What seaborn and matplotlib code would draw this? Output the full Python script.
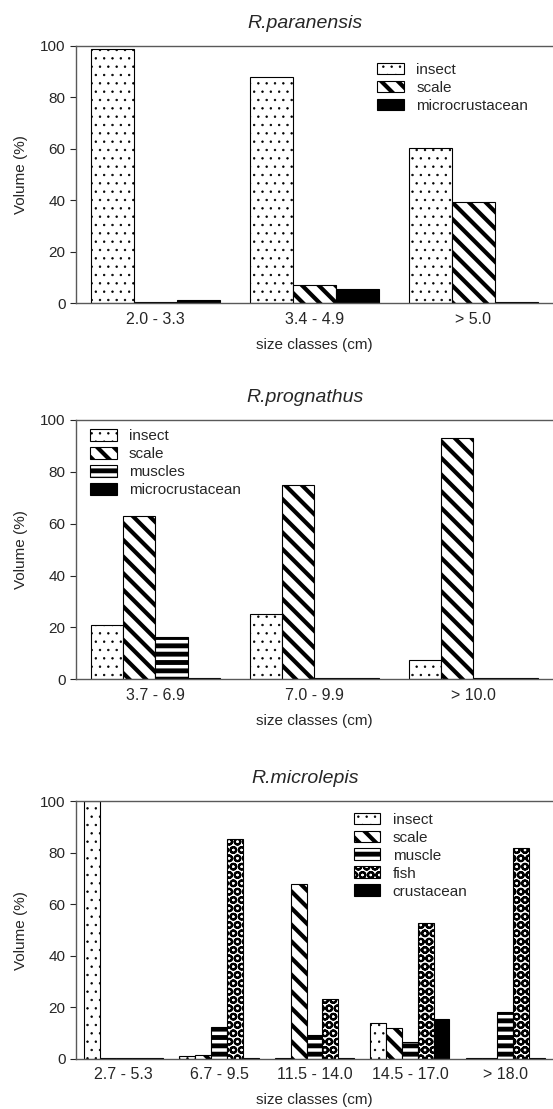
import matplotlib
matplotlib.use("Agg")
import matplotlib.pyplot as plt
import seaborn as sns
import pandas as pd
import numpy as np

# panel 1: R.paranensis
sizes_1 = ["2.0 - 3.3", "3.4 - 4.9", "> 5.0"]
items_1 = ["insect", "scale", "microcrustacean"]
insect_1 = [98.7, 87.7, 60.3]
scale_1 = [0.5, 7.1, 39.3]
microcrust_1 = [1.4, 5.5, 0.5]

# panel 2: R.prognathus
sizes_2 = ["3.7 - 6.9", "7.0 - 9.9", "> 10.0"]
items_2 = ["insect", "scale", "muscles", "microcrustacean"]
insect_2 = [21.0, 25.2, 7.4]
scale_2 = [63.0, 75.0, 92.9]
muscles_2 = [16.2, 0.5, 0.5]
microcrust_2 = [0.5, 0.5, 0.5]

# panel 3: R.microlepis
sizes_3 = ["2.7 - 5.3", "6.7 - 9.5", "11.5 - 14.0", "14.5 - 17.0", "> 18.0"]
items_3 = ["insect", "scale", "muscle", "fish", "crustacean"]
insect_3 = [100.0, 1.0, 0.5, 13.9, 0.5]
scale_3 = [0.5, 1.4, 67.8, 12.1, 0.5]
muscle_3 = [0.5, 12.6, 9.3, 6.5, 18.2]
fish_3 = [0.5, 85.4, 23.1, 53.0, 81.8]
crust_3 = [0.5, 0.5, 0.5, 15.6, 0.5]

# hatch style per food item: (facecolor, hatch, hatch linewidth)
styles = {
    "insect": ("white", "..", 0.5),
    "scale": ("white", "\\\\", 3.0),
    "muscles": ("white", "--", 3.5),
    "muscle": ("white", "--", 3.5),
    "fish": ("white", "OO", 1.5),
    "microcrustacean": ("black", "", 1.0),
    "crustacean": ("black", "", 1.0),
}

sns.set_style("white")
plt.rcParams["font.family"] = ["Liberation Sans", "DejaVu Sans"]
plt.rcParams["hatch.color"] = "black"


def long_df(sizes, items, series):
    rows = []
    for item, vals in zip(items, series):
        for s, v in zip(sizes, vals):
            rows.append({"size": s, "item": item, "vol": v})
    return pd.DataFrame(rows)


def set_hatch(p, hatch, hlw):
    p.set_hatch(hatch)
    if hasattr(p, "set_hatch_linewidth"):
        p.set_hatch_linewidth(hlw)


def draw(ax, sizes, items, series, title, width, xmax, leg_xy):
    df = long_df(sizes, items, series)
    pal = {it: styles[it][0] for it in items}
    sns.barplot(data=df, x="size", y="vol", hue="item", order=sizes,
                hue_order=items, palette=pal, saturation=1, width=width,
                edgecolor="black", linewidth=0.8, legend=False, ax=ax)
    for cont, item in zip(ax.containers, items):
        for p in cont.patches:
            set_hatch(p, styles[item][1], styles[item][2])
    leg = ax.legend(ax.containers, items, loc="upper left", bbox_to_anchor=leg_xy,
                    frameon=False, fontsize=11, handlelength=1.75, handleheight=0.8,
                    handletextpad=0.8, labelspacing=0.25, borderpad=0, borderaxespad=0)
    for h, item in zip(leg.legend_handles, items):
        set_hatch(h, styles[item][1], styles[item][2])
    ax.set_ylim(0, 100)
    ax.set_xlim(-0.5, xmax)
    ax.set_yticks([0, 20, 40, 60, 80, 100])
    ax.set_xticks(np.arange(len(sizes)) + 0.5, minor=True)
    ax.tick_params(axis="x", which="major", length=0, labelsize=11.5, pad=6)
    ax.tick_params(axis="x", which="minor", length=3, color="0.4", direction="out")
    ax.tick_params(axis="y", length=4, labelsize=11, left=True, direction="out")
    ax.set_ylabel("Volume (%)", fontsize=11, labelpad=9)
    ax.set_xlabel("size classes (cm)", fontsize=11, labelpad=8)
    ax.set_title(title, fontsize=14, style="italic", x=0.48, pad=13)
    for side in ["left", "bottom", "top"]:
        ax.spines[side].set_color("0.35")
        ax.spines[side].set_linewidth(1.0)
    ax.spines["right"].set_visible(False)


fig = plt.figure(figsize=(5.53, 11.09), dpi=100)
ax1 = fig.add_axes([0.1374, 0.7265, 0.8626, 0.2323])
ax2 = fig.add_axes([0.1374, 0.3875, 0.8626, 0.2338])
ax3 = fig.add_axes([0.1374, 0.0451, 0.8626, 0.2322])

draw(ax1, sizes_1, items_1, [insect_1, scale_1, microcrust_1],
     "R.paranensis", 0.81, 2.49, (0.632, 0.934))
draw(ax2, sizes_2, items_2, [insect_2, scale_2, muscles_2, microcrust_2],
     "R.prognathus", 0.81, 2.48, (0.029, 0.965))
draw(ax3, sizes_3, items_3, [insect_3, scale_3, muscle_3, fish_3, crust_3],
     "R.microlepis", 0.83, 4.47, (0.582, 0.957))

fig.savefig("out.png", dpi=100)
